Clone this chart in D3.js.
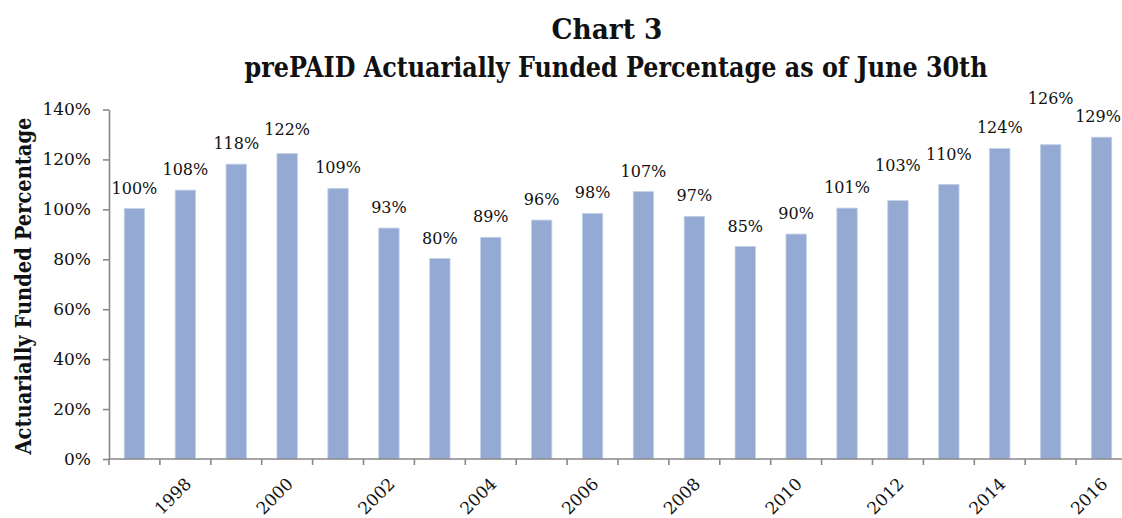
<!DOCTYPE html>
<html>
<head>
<meta charset="utf-8">
<script src="https://cdn.jsdelivr.net/npm/d3@7"></script>
<style>
  body { margin: 0; background: #fff; }
  svg { display: block; }
</style>
</head>
<body>
<div id="chart"></div>
<script>
// Data
const years = [1997, 1998, 1999, 2000, 2001, 2002, 2003, 2004, 2005, 2006,
    2007, 2008, 2009, 2010, 2011, 2012, 2013, 2014, 2015, 2016];
const funded = [1.003, 1.077, 1.181, 1.224, 1.084, 0.925, 0.803, 0.888, 0.957, 0.984,
    1.071, 0.972, 0.851, 0.901, 1.005, 1.035, 1.10, 1.244, 1.259, 1.289];
const labels = ["100%", "108%", "118%", "122%", "109%", "93%", "80%", "89%", "96%", "98%",
    "107%", "97%", "85%", "90%", "101%", "103%", "110%", "124%", "126%", "129%"];
const yTicks = [0, 0.2, 0.4, 0.6, 0.8, 1.0, 1.2, 1.4];
const xTickYears = [1998, 2000, 2002, 2004, 2006, 2008, 2010, 2012, 2014, 2016];

// a few labels were dragged higher in the original
const labelNudge = { 2000: 3, 2012: 15, 2013: 9, 2015: 26 };

const width = 1122,
    height = 518;
const plotLeft = 109,
    plotRight = 1127,
    plotTop = 109.5,
    plotBottom = 459;

const axisColor = "#888888";
const serif = "'DejaVu Serif', 'Liberation Serif', serif";

const svg = d3
    .select("#chart")
    .append("svg")
    .attr("width", width)
    .attr("height", height);

const x = d3
    .scaleBand()
    .domain(years)
    .range([plotLeft, plotRight])
    .paddingInner(0.6)
    .paddingOuter(0.3);

const y = d3.scaleLinear().domain([0, 1.4]).range([plotBottom, plotTop]);

// Bars
svg.selectAll("rect.bar")
    .data(years)
    .enter()
    .append("rect")
    .attr("class", "bar")
    .attr("x", (d) => x(d))
    .attr("width", x.bandwidth())
    .attr("y", (d, i) => y(funded[i]))
    .attr("height", (d, i) => y(0) - y(funded[i]))
    .style("fill", "#95aad2")
    .style("stroke", "#c3cfe6")
    .style("stroke-width", 0.8);

// Value labels (last one pulled in a bit so it stays on the page)
svg.selectAll("text.value")
    .data(years)
    .enter()
    .append("text")
    .attr("class", "value")
    .attr("x", (d) => Math.min(x(d) + x.bandwidth() / 2, width - 24))
    .attr("y", (d, i) => y(funded[i]) - 15 - (labelNudge[d] || 0))
    .attr("text-anchor", "middle")
    .style("font-family", serif)
    .style("font-size", "16px")
    .style("fill", "#111")
    .text((d, i) => labels[i]);

// Y axis
const yAxis = svg
    .append("g")
    .attr("transform", `translate(${plotLeft},0)`)
    .call(
        d3
            .axisLeft(y)
            .tickValues(yTicks)
            .tickFormat(d3.format(".0%"))
            .tickSize(6)
            .tickPadding(12)
            .tickSizeOuter(0),
    );

yAxis.select(".domain").style("stroke", axisColor).style("stroke-width", 1.6);
yAxis.selectAll(".tick line").style("stroke", axisColor).style("stroke-width", 1.6);
yAxis
    .selectAll(".tick text")
    .style("font-family", serif)
    .style("font-size", "17px")
    .style("fill", "#111");

// X axis
const xAxis = svg
    .append("g")
    .attr("transform", `translate(0,${plotBottom})`)
    .call(d3.axisBottom(x).tickValues(xTickYears).tickSize(0).tickSizeOuter(0));

xAxis
    .select(".domain")
    .attr("d", `M${plotLeft},0H${width}`)
    .style("stroke", axisColor)
    .style("stroke-width", 1.6);

xAxis
    .selectAll(".tick text")
    .attr("text-anchor", "end")
    .attr("dy", null)
    .attr("y", null)
    .attr("transform", "translate(7,26) rotate(-45)")
    .style("font-family", serif)
    .style("font-size", "17px")
    .style("fill", "#111");

// category boundary ticks
const boundaries = years.map((d) => x(d) - (x.step() - x.bandwidth()) / 2);
xAxis
    .selectAll("line.boundary")
    .data(boundaries)
    .enter()
    .append("line")
    .attr("class", "boundary")
    .attr("x1", (d) => d)
    .attr("x2", (d) => d)
    .attr("y1", 0)
    .attr("y2", 6)
    .style("stroke", axisColor)
    .style("stroke-width", 1.6);

// Y axis title
svg.append("text")
    .attr("transform", "translate(31,286) rotate(-90)")
    .attr("text-anchor", "middle")
    .attr("textLength", 337)
    .attr("lengthAdjust", "spacingAndGlyphs")
    .style("font-family", serif)
    .style("font-weight", "bold")
    .style("font-size", "22px")
    .style("fill", "#111")
    .text("Actuarially Funded Percentage");

// Title
const titleFont = "'DejaVu Serif Condensed', 'DejaVu Serif', serif";
svg.append("text")
    .attr("x", 607)
    .attr("y", 39)
    .attr("text-anchor", "middle")
    .attr("textLength", 111)
    .attr("lengthAdjust", "spacingAndGlyphs")
    .style("font-family", titleFont)
    .style("font-weight", "bold")
    .style("font-size", "27px")
    .style("fill", "#111")
    .text("Chart 3");

svg.append("text")
    .attr("x", 616)
    .attr("y", 77)
    .attr("text-anchor", "middle")
    .attr("textLength", 743)
    .attr("lengthAdjust", "spacingAndGlyphs")
    .style("font-family", titleFont)
    .style("font-weight", "bold")
    .style("font-size", "27px")
    .style("fill", "#111")
    .text("prePAID Actuarially Funded Percentage as of June 30th");
</script>
</body>
</html>
